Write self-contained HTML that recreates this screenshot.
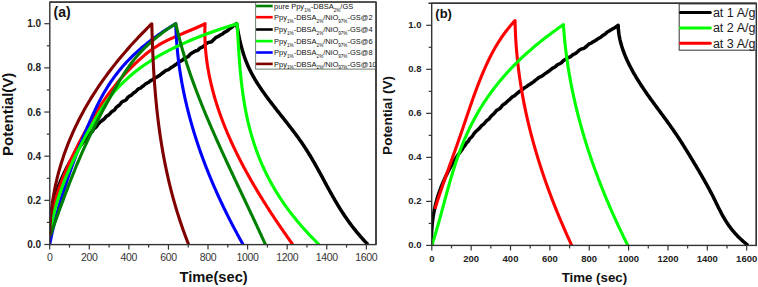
<!DOCTYPE html>
<html><head><meta charset="utf-8"><style>
html,body{margin:0;padding:0;background:#fff;}
body{width:758px;height:287px;overflow:hidden;}
svg{display:block;}
text{font-family:"Liberation Sans", sans-serif;}
</style></head><body>
<svg width="758" height="287" viewBox="0 0 758 287">
<rect x="0" y="0" width="758" height="287" fill="#fff"/>


<g clip-path="url(#ca)">
<path d="M49.70,233.46 L49.73,232.66 L49.76,231.86 L49.79,231.07 L49.83,230.27 L49.87,229.47 L49.92,228.67 L49.97,227.88 L50.02,227.08 L50.08,226.29 L50.14,225.49 L50.21,224.69 L50.28,223.90 L50.35,223.10 L50.43,222.31 L50.51,221.51 L50.59,220.72 L50.68,219.93 L50.78,219.13 L50.87,218.34 L50.98,217.55 L51.08,216.76 L51.19,215.97 L51.31,215.18 L51.43,214.39 L51.55,213.60 L51.68,212.81 L51.81,212.02 L51.94,211.24 L52.08,210.45 L52.22,209.67 L52.37,208.88 L52.52,208.10 L52.68,207.31 L52.84,206.53 L53.00,205.75 L53.17,204.97 L53.35,204.19 L53.52,203.41 L53.70,202.64 L53.89,201.86 L54.08,201.08 L54.27,200.31 L54.47,199.54 L54.67,198.76 L54.88,197.99 L55.09,197.22 L55.31,196.45 L55.52,195.69 L55.75,194.92 L55.97,194.15 L56.21,193.39 L56.44,192.63 L56.68,191.87 L56.93,191.10 L57.18,190.35 L57.43,189.59 L57.68,188.83 L57.94,188.08 L58.21,187.32 L58.48,186.57 L58.75,185.82 L59.02,185.07 L59.31,184.33 L59.59,183.58 L59.88,182.84 L60.17,182.09 L60.47,181.35 L60.77,180.61 L61.07,179.87 L61.38,179.14 L61.69,178.40 L62.01,177.67 L62.33,176.94 L62.65,176.21 L62.98,175.48 L63.31,174.75 L63.65,174.03 L63.99,173.31 L64.33,172.59 L64.67,171.87 L65.02,171.15 L65.38,170.43 L65.73,169.72 L66.10,169.01 L66.46,168.30 L66.83,167.59 L67.20,166.88 L67.57,166.18 L67.95,165.47 L68.33,164.77 L68.72,164.07 L69.11,163.37 L69.50,162.68 L69.90,161.99 L70.29,161.29 L70.70,160.60 L71.10,159.92 L71.51,159.23 L71.92,158.55 L72.34,157.86 L72.75,157.18 L73.17,156.51 L73.60,155.83 L74.03,155.16 L74.46,154.48 L74.89,153.81 L75.33,153.14 L75.77,152.48 L76.21,151.81 L76.66,151.15 L77.10,150.49 L77.56,149.83 L78.01,149.18 L78.47,148.52 L78.93,147.87 L79.39,147.22 L79.86,146.57 L80.32,145.92 L80.80,145.28 L81.27,144.64 L81.75,144.00 L82.22,143.36 L82.71,142.72 L83.19,142.09 L83.68,141.45 L84.17,140.82 L84.66,140.19 L85.15,139.57 L85.68,138.96 L86.18,138.34 L86.66,137.71 L87.15,137.07 L87.67,136.47 L88.22,135.89 L88.75,135.29 L89.23,134.65 L89.69,133.99 L90.17,133.35 L90.68,132.74 L91.28,132.20 L91.94,131.72 L92.53,131.17 L92.93,130.47 L93.24,129.67 L93.64,128.96 L94.23,128.41 L94.93,127.97 L95.61,127.51 L96.20,126.97 L96.70,126.34 L97.15,125.67 L97.57,124.97 L98.02,124.29 L98.54,123.69 L99.10,123.12 L99.66,122.54 L100.22,121.98 L100.83,121.45 L101.48,120.97 L102.13,120.49 L102.77,120.00 L103.41,119.51 L104.06,119.03 L104.65,118.50 L105.14,117.86 L105.60,117.19 L106.13,116.59 L106.75,116.09 L107.45,115.65 L108.15,115.24 L108.83,114.79 L109.43,114.27 L109.98,113.69 L110.48,113.07 L110.99,112.44 L111.54,111.86 L112.17,111.37 L112.89,110.98 L113.63,110.60 L114.29,110.14 L114.81,109.54 L115.24,108.82 L115.70,108.13 L116.23,107.52 L116.81,106.98 L117.42,106.47 L118.07,105.99 L118.72,105.53 L119.35,105.03 L119.91,104.46 L120.40,103.81 L120.87,103.13 L121.37,102.48 L121.95,101.93 L122.66,101.52 L123.43,101.21 L124.21,100.90 L124.95,100.54 L125.63,100.12 L126.24,99.60 L126.76,98.98 L127.23,98.29 L127.70,97.60 L128.25,97.00 L128.87,96.50 L129.56,96.08 L130.29,95.72 L131.02,95.35 L131.67,94.89 L132.25,94.34 L132.82,93.77 L133.41,93.23 L134.04,92.74 L134.68,92.26 L135.32,91.79 L135.94,91.27 L136.52,90.71 L137.07,90.12 L137.64,89.54 L138.26,89.05 L138.98,88.67 L139.76,88.39 L140.52,88.07 L141.17,87.61 L141.75,87.05 L142.34,86.50 L142.98,86.02 L143.62,85.54 L144.24,85.04 L144.85,84.52 L145.47,84.01 L146.15,83.59 L146.86,83.21 L147.57,82.82 L148.26,82.42 L148.95,82.01 L149.58,81.53 L150.19,81.00 L150.83,80.52 L151.54,80.15 L152.29,79.83 L152.99,79.44 L153.61,78.93 L154.20,78.38 L154.88,77.95 L155.65,77.66 L156.40,77.35 L157.08,76.94 L157.73,76.46 L158.40,76.04 L159.10,75.65 L159.78,75.23 L160.41,74.74 L161.02,74.22 L161.64,73.70 L162.28,73.22 L162.94,72.77 L163.60,72.32 L164.22,71.81 L164.80,71.25 L165.42,70.74 L166.14,70.38 L166.93,70.13 L167.73,69.89 L168.47,69.57 L169.15,69.14 L169.78,68.65 L170.40,68.14 L171.04,67.67 L171.70,67.21 L172.38,66.79 L173.06,66.38 L173.73,65.94 L174.38,65.47 L175.04,65.03 L175.74,64.64 L176.41,64.20 L177.02,63.67 L177.61,63.12 L178.23,62.60 L178.86,62.11 L179.52,61.66 L180.23,61.29 L180.97,60.96 L181.69,60.60 L182.36,60.18 L182.98,59.66 L183.55,59.07 L184.12,58.49 L184.78,58.04 L185.53,57.72 L186.32,57.47 L187.08,57.18 L187.78,56.80 L188.42,56.31 L188.98,55.71 L189.49,55.02 L190.03,54.39 L190.65,53.88 L191.32,53.45 L192.00,53.02 L192.67,52.60 L193.35,52.18 L194.01,51.73 L194.70,51.32 L195.46,51.03 L196.27,50.81 L197.07,50.57 L197.81,50.25 L198.45,49.77 L198.99,49.14 L199.53,48.50 L200.17,48.02 L200.92,47.72 L201.70,47.45 L202.42,47.09 L203.07,46.63 L203.68,46.10 L204.28,45.55 L204.85,44.97 L205.41,44.37 L205.99,43.79 L206.62,43.29 L207.30,42.89 L208.06,42.58 L208.87,42.37 L209.74,42.23 L210.60,42.09 L211.37,41.80 L212.00,41.31 L212.57,40.72 L213.14,40.14 L213.74,39.60 L214.34,39.05 L214.89,38.45 L215.44,37.83 L216.06,37.32 L216.81,37.00 L217.60,36.75 L218.32,36.39 L218.98,35.94 L219.63,35.48 L220.31,35.06 L221.02,34.69 L221.75,34.33 L222.45,33.95 L223.10,33.49 L223.73,32.99 L224.36,32.50 L225.02,32.05 L225.71,31.64 L226.44,31.30 L227.18,30.95 L227.82,30.49 L228.38,29.89 L228.94,29.29 L229.56,28.78 L230.23,28.35 L230.92,27.95 L231.59,27.51 L232.19,26.98 L232.73,26.35 L233.27,25.74 L233.89,25.24 L234.61,24.87 L235.34,24.51 L236.02,24.10 L236.68,23.64 L236.72,23.70 L236.97,25.29 L237.22,26.88 L237.49,28.47 L237.76,30.05 L238.04,31.64 L238.34,33.23 L238.64,34.82 L238.96,36.41 L239.29,38.00 L239.63,39.58 L239.99,41.17 L240.36,42.76 L240.75,44.35 L241.15,45.94 L241.58,47.53 L242.02,49.12 L242.48,50.70 L242.96,52.29 L243.46,53.88 L243.98,55.47 L244.52,57.06 L245.09,58.65 L245.68,60.24 L246.30,61.82 L246.94,63.41 L247.61,65.00 L248.30,66.59 L249.02,68.18 L249.78,69.77 L250.56,71.35 L251.37,72.94 L252.21,74.53 L253.08,76.12 L253.98,77.71 L254.91,79.30 L255.86,80.89 L256.85,82.47 L257.85,84.06 L258.88,85.65 L259.94,87.24 L261.01,88.83 L262.10,90.42 L263.22,92.01 L264.35,93.59 L265.49,95.18 L266.66,96.77 L267.83,98.36 L269.02,99.95 L270.22,101.54 L271.44,103.12 L272.66,104.71 L273.89,106.30 L275.13,107.89 L276.37,109.48 L277.62,111.07 L278.87,112.66 L280.13,114.24 L281.38,115.83 L282.64,117.42 L283.90,119.01 L285.15,120.60 L286.40,122.19 L287.65,123.77 L288.89,125.36 L290.12,126.95 L291.35,128.54 L292.56,130.13 L293.77,131.72 L294.96,133.31 L296.15,134.89 L297.32,136.48 L298.47,138.07 L299.61,139.66 L300.73,141.25 L301.83,142.84 L302.91,144.43 L303.98,146.01 L305.02,147.60 L306.05,149.19 L307.06,150.78 L308.06,152.37 L309.04,153.96 L310.01,155.54 L310.96,157.13 L311.90,158.72 L312.83,160.31 L313.75,161.90 L314.66,163.49 L315.56,165.08 L316.46,166.66 L317.34,168.25 L318.22,169.84 L319.09,171.43 L319.96,173.02 L320.83,174.61 L321.69,176.19 L322.55,177.78 L323.41,179.37 L324.27,180.96 L325.12,182.55 L325.98,184.14 L326.84,185.73 L327.71,187.31 L328.58,188.90 L329.45,190.49 L330.33,192.08 L331.21,193.67 L332.11,195.26 L333.01,196.85 L333.91,198.43 L334.83,200.02 L335.76,201.61 L336.70,203.20 L337.65,204.79 L338.62,206.38 L339.60,207.96 L340.59,209.55 L341.60,211.14 L342.63,212.73 L343.67,214.32 L344.74,215.91 L345.82,217.50 L346.92,219.08 L348.04,220.67 L349.18,222.26 L350.35,223.85 L351.54,225.44 L352.75,227.03 L353.99,228.62 L355.25,230.20 L356.54,231.79 L357.86,233.38 L359.20,234.97 L360.58,236.56 L361.99,238.15 L363.42,239.73 L364.89,241.32 L366.39,242.91 L367.92,244.50" fill="none" stroke="#000000" stroke-width="3.5" stroke-linejoin="round" stroke-linecap="butt"/>
<path d="M49.70,234.56 L49.77,233.05 L49.87,231.53 L49.97,230.01 L50.10,228.50 L50.24,226.98 L50.41,225.46 L50.58,223.94 L50.78,222.43 L50.99,220.91 L51.21,219.39 L51.46,217.88 L51.72,216.36 L51.99,214.84 L52.28,213.33 L52.58,211.81 L52.90,210.29 L53.24,208.77 L53.59,207.26 L53.95,205.74 L54.33,204.22 L54.72,202.71 L55.13,201.19 L55.54,199.67 L55.98,198.16 L56.42,196.64 L56.88,195.12 L57.35,193.60 L57.84,192.09 L58.33,190.57 L58.84,189.05 L59.36,187.54 L59.89,186.02 L60.44,184.50 L60.99,182.99 L61.56,181.47 L62.14,179.95 L62.72,178.43 L63.32,176.92 L63.93,175.40 L64.55,173.88 L65.18,172.37 L65.82,170.85 L66.47,169.33 L67.13,167.82 L67.79,166.30 L68.47,164.78 L69.15,163.26 L69.85,161.75 L70.55,160.23 L71.26,158.71 L71.98,157.20 L72.70,155.68 L73.44,154.16 L74.18,152.65 L74.93,151.13 L75.68,149.61 L76.44,148.09 L77.21,146.58 L77.98,145.06 L78.77,143.54 L79.55,142.03 L80.34,140.51 L81.14,138.99 L81.95,137.48 L82.75,135.96 L83.57,134.44 L84.39,132.92 L85.21,131.41 L86.04,129.89 L86.87,128.37 L87.71,126.86 L88.56,125.34 L89.42,123.82 L90.28,122.31 L91.16,120.79 L92.04,119.27 L92.93,117.75 L93.83,116.24 L94.75,114.72 L95.67,113.20 L96.61,111.69 L97.55,110.17 L98.51,108.65 L99.49,107.14 L100.47,105.62 L101.48,104.10 L102.49,102.58 L103.52,101.07 L104.57,99.55 L105.63,98.03 L106.71,96.52 L107.81,95.00 L108.93,93.48 L110.06,91.97 L111.21,90.45 L112.38,88.93 L113.57,87.41 L114.78,85.90 L116.01,84.38 L117.27,82.86 L118.54,81.35 L119.84,79.83 L121.16,78.31 L122.50,76.80 L123.87,75.28 L125.26,73.76 L126.67,72.24 L128.12,70.73 L129.58,69.21 L131.07,67.69 L132.59,66.18 L134.14,64.66 L135.72,63.14 L137.32,61.63 L138.95,60.11 L140.61,58.59 L142.32,57.07 L144.07,55.56 L145.89,54.04 L147.79,52.52 L149.78,51.01 L151.88,49.49 L154.08,47.97 L156.42,46.46 L158.90,44.94 L161.53,43.42 L164.33,41.90 L167.30,40.39 L170.46,38.87 L173.80,37.35 L177.27,35.84 L180.83,34.32 L184.44,32.80 L188.07,31.29 L191.67,29.77 L195.21,28.25 L198.65,26.73 L201.94,25.22 L205.05,23.70 L205.05,23.70 L204.99,25.29 L204.94,26.88 L204.90,28.47 L204.88,30.05 L204.86,31.64 L204.86,33.23 L204.88,34.82 L204.90,36.41 L204.94,38.00 L204.99,39.58 L205.05,41.17 L205.12,42.76 L205.21,44.35 L205.31,45.94 L205.42,47.53 L205.54,49.12 L205.67,50.70 L205.82,52.29 L205.98,53.88 L206.15,55.47 L206.33,57.06 L206.52,58.65 L206.72,60.24 L206.94,61.82 L207.17,63.41 L207.40,65.00 L207.65,66.59 L207.91,68.18 L208.19,69.77 L208.47,71.35 L208.76,72.94 L209.07,74.53 L209.38,76.12 L209.71,77.71 L210.05,79.30 L210.40,80.89 L210.76,82.47 L211.13,84.06 L211.51,85.65 L211.90,87.24 L212.30,88.83 L212.71,90.42 L213.13,92.01 L213.56,93.59 L214.01,95.18 L214.46,96.77 L214.92,98.36 L215.39,99.95 L215.88,101.54 L216.37,103.12 L216.87,104.71 L217.38,106.30 L217.91,107.89 L218.44,109.48 L218.98,111.07 L219.53,112.66 L220.09,114.24 L220.66,115.83 L221.24,117.42 L221.83,119.01 L222.43,120.60 L223.03,122.19 L223.65,123.77 L224.28,125.36 L224.91,126.95 L225.55,128.54 L226.21,130.13 L226.87,131.72 L227.54,133.31 L228.22,134.89 L228.90,136.48 L229.60,138.07 L230.30,139.66 L231.02,141.25 L231.74,142.84 L232.47,144.43 L233.21,146.01 L233.95,147.60 L234.71,149.19 L235.47,150.78 L236.24,152.37 L237.02,153.96 L237.81,155.54 L238.60,157.13 L239.40,158.72 L240.21,160.31 L241.03,161.90 L241.86,163.49 L242.69,165.08 L243.53,166.66 L244.38,168.25 L245.23,169.84 L246.10,171.43 L246.97,173.02 L247.84,174.61 L248.73,176.19 L249.62,177.78 L250.52,179.37 L251.43,180.96 L252.34,182.55 L253.26,184.14 L254.19,185.73 L255.12,187.31 L256.06,188.90 L257.01,190.49 L257.96,192.08 L258.92,193.67 L259.88,195.26 L260.86,196.85 L261.84,198.43 L262.82,200.02 L263.81,201.61 L264.81,203.20 L265.81,204.79 L266.82,206.38 L267.84,207.96 L268.86,209.55 L269.89,211.14 L270.92,212.73 L271.96,214.32 L273.01,215.91 L274.06,217.50 L275.11,219.08 L276.18,220.67 L277.24,222.26 L278.31,223.85 L279.39,225.44 L280.48,227.03 L281.56,228.62 L282.66,230.20 L283.76,231.79 L284.86,233.38 L285.97,234.97 L287.08,236.56 L288.20,238.15 L289.32,239.73 L290.45,241.32 L291.58,242.91 L292.72,244.50" fill="none" stroke="#ff0000" stroke-width="3.1" stroke-linejoin="round" stroke-linecap="butt"/>
<path d="M49.70,244.50 L50.00,242.91 L50.31,241.32 L50.63,239.73 L50.95,238.15 L51.29,236.56 L51.63,234.97 L51.98,233.38 L52.33,231.79 L52.69,230.20 L53.07,228.62 L53.44,227.03 L53.83,225.44 L54.22,223.85 L54.62,222.26 L55.02,220.67 L55.43,219.08 L55.85,217.50 L56.27,215.91 L56.70,214.32 L57.14,212.73 L57.58,211.14 L58.03,209.55 L58.48,207.96 L58.94,206.38 L59.40,204.79 L59.87,203.20 L60.34,201.61 L60.82,200.02 L61.31,198.43 L61.80,196.85 L62.29,195.26 L62.79,193.67 L63.29,192.08 L63.80,190.49 L64.31,188.90 L64.82,187.31 L65.34,185.73 L65.87,184.14 L66.39,182.55 L66.93,180.96 L67.46,179.37 L68.00,177.78 L68.54,176.19 L69.09,174.61 L69.64,173.02 L70.20,171.43 L70.76,169.84 L71.32,168.25 L71.89,166.66 L72.46,165.08 L73.04,163.49 L73.62,161.90 L74.21,160.31 L74.80,158.72 L75.39,157.13 L75.99,155.54 L76.59,153.96 L77.20,152.37 L77.81,150.78 L78.43,149.19 L79.05,147.60 L79.67,146.01 L80.30,144.43 L80.93,142.84 L81.57,141.25 L82.21,139.66 L82.86,138.07 L83.51,136.48 L84.17,134.89 L84.83,133.31 L85.49,131.72 L86.16,130.13 L86.84,128.54 L87.51,126.95 L88.20,125.36 L88.89,123.77 L89.58,122.19 L90.28,120.60 L90.98,119.01 L91.68,117.42 L92.40,115.83 L93.12,114.24 L93.85,112.66 L94.58,111.07 L95.33,109.48 L96.09,107.89 L96.86,106.30 L97.64,104.71 L98.44,103.12 L99.25,101.54 L100.07,99.95 L100.92,98.36 L101.77,96.77 L102.65,95.18 L103.55,93.59 L104.46,92.01 L105.40,90.42 L106.36,88.83 L107.34,87.24 L108.35,85.65 L109.38,84.06 L110.43,82.47 L111.51,80.89 L112.62,79.30 L113.76,77.71 L114.92,76.12 L116.12,74.53 L117.35,72.94 L118.61,71.35 L119.90,69.77 L121.22,68.18 L122.58,66.59 L123.98,65.00 L125.41,63.41 L126.88,61.82 L128.39,60.24 L129.94,58.65 L131.52,57.06 L133.15,55.47 L134.82,53.88 L136.54,52.29 L138.29,50.70 L140.09,49.12 L141.94,47.53 L143.84,45.94 L145.78,44.35 L147.77,42.76 L149.81,41.17 L151.90,39.58 L154.04,38.00 L156.23,36.41 L158.47,34.82 L160.77,33.23 L163.13,31.64 L165.54,30.05 L168.01,28.47 L170.53,26.88 L173.11,25.29 L175.76,23.70 L175.76,23.70 L175.80,25.29 L175.85,26.88 L175.91,28.47 L175.97,30.05 L176.04,31.64 L176.12,33.23 L176.21,34.82 L176.30,36.41 L176.39,38.00 L176.50,39.58 L176.61,41.17 L176.73,42.76 L176.85,44.35 L176.98,45.94 L177.12,47.53 L177.27,49.12 L177.42,50.70 L177.58,52.29 L177.74,53.88 L177.91,55.47 L178.09,57.06 L178.28,58.65 L178.47,60.24 L178.67,61.82 L178.87,63.41 L179.08,65.00 L179.30,66.59 L179.52,68.18 L179.76,69.77 L179.99,71.35 L180.24,72.94 L180.49,74.53 L180.75,76.12 L181.01,77.71 L181.28,79.30 L181.56,80.89 L181.84,82.47 L182.13,84.06 L182.43,85.65 L182.73,87.24 L183.04,88.83 L183.36,90.42 L183.68,92.01 L184.01,93.59 L184.34,95.18 L184.69,96.77 L185.03,98.36 L185.39,99.95 L185.75,101.54 L186.12,103.12 L186.49,104.71 L186.87,106.30 L187.26,107.89 L187.65,109.48 L188.05,111.07 L188.45,112.66 L188.87,114.24 L189.28,115.83 L189.71,117.42 L190.14,119.01 L190.58,120.60 L191.02,122.19 L191.47,123.77 L191.92,125.36 L192.38,126.95 L192.85,128.54 L193.33,130.13 L193.81,131.72 L194.29,133.31 L194.78,134.89 L195.28,136.48 L195.79,138.07 L196.30,139.66 L196.82,141.25 L197.34,142.84 L197.87,144.43 L198.40,146.01 L198.95,147.60 L199.49,149.19 L200.05,150.78 L200.61,152.37 L201.17,153.96 L201.74,155.54 L202.32,157.13 L202.90,158.72 L203.49,160.31 L204.09,161.90 L204.69,163.49 L205.30,165.08 L205.91,166.66 L206.53,168.25 L207.16,169.84 L207.79,171.43 L208.43,173.02 L209.07,174.61 L209.72,176.19 L210.37,177.78 L211.03,179.37 L211.70,180.96 L212.37,182.55 L213.05,184.14 L213.74,185.73 L214.43,187.31 L215.12,188.90 L215.82,190.49 L216.53,192.08 L217.24,193.67 L217.96,195.26 L218.69,196.85 L219.42,198.43 L220.15,200.02 L220.89,201.61 L221.64,203.20 L222.40,204.79 L223.15,206.38 L223.92,207.96 L224.69,209.55 L225.47,211.14 L226.25,212.73 L227.03,214.32 L227.83,215.91 L228.63,217.50 L229.43,219.08 L230.24,220.67 L231.05,222.26 L231.87,223.85 L232.70,225.44 L233.53,227.03 L234.37,228.62 L235.21,230.20 L236.06,231.79 L236.92,233.38 L237.78,234.97 L238.64,236.56 L239.51,238.15 L240.39,239.73 L241.27,241.32 L242.16,242.91 L243.05,244.50" fill="none" stroke="#0000ff" stroke-width="3.1" stroke-linejoin="round" stroke-linecap="butt"/>
<path d="M49.70,233.46 L49.96,231.95 L50.23,230.44 L50.51,228.93 L50.80,227.42 L51.09,225.91 L51.40,224.41 L51.72,222.90 L52.05,221.39 L52.38,219.88 L52.73,218.37 L53.09,216.86 L53.45,215.35 L53.83,213.84 L54.22,212.33 L54.61,210.82 L55.02,209.31 L55.44,207.81 L55.86,206.30 L56.30,204.79 L56.74,203.28 L57.20,201.77 L57.66,200.26 L58.14,198.75 L58.62,197.24 L59.12,195.73 L59.62,194.22 L60.13,192.72 L60.66,191.21 L61.19,189.70 L61.73,188.19 L62.28,186.68 L62.84,185.17 L63.41,183.66 L63.99,182.15 L64.58,180.64 L65.18,179.13 L65.78,177.62 L66.40,176.12 L67.02,174.61 L67.65,173.10 L68.29,171.59 L68.94,170.08 L69.60,168.57 L70.26,167.06 L70.94,165.55 L71.62,164.04 L72.31,162.53 L73.01,161.02 L73.71,159.52 L74.43,158.01 L75.15,156.50 L75.88,154.99 L76.62,153.48 L77.37,151.97 L78.12,150.46 L78.88,148.95 L79.65,147.44 L80.42,145.93 L81.21,144.43 L82.00,142.92 L82.79,141.41 L83.60,139.90 L84.41,138.39 L85.23,136.88 L86.06,135.37 L86.89,133.86 L87.73,132.35 L88.57,130.84 L89.43,129.33 L90.29,127.83 L91.15,126.32 L92.02,124.81 L92.90,123.30 L93.79,121.79 L94.68,120.28 L95.58,118.77 L96.48,117.26 L97.40,115.75 L98.32,114.24 L99.26,112.73 L100.21,111.23 L101.17,109.72 L102.16,108.21 L103.16,106.70 L104.18,105.19 L105.22,103.68 L106.29,102.17 L107.38,100.66 L108.49,99.15 L109.64,97.64 L110.81,96.14 L112.02,94.63 L113.26,93.12 L114.53,91.61 L115.84,90.10 L117.18,88.59 L118.57,87.08 L119.99,85.57 L121.46,84.06 L122.97,82.55 L124.53,81.04 L126.13,79.54 L127.78,78.03 L129.48,76.52 L131.24,75.01 L133.04,73.50 L134.90,71.99 L136.82,70.48 L138.80,68.97 L140.83,67.46 L142.93,65.95 L145.10,64.44 L147.33,62.94 L149.64,61.43 L152.01,59.92 L154.46,58.41 L156.99,56.90 L159.60,55.39 L162.29,53.88 L165.06,52.37 L167.92,50.86 L170.87,49.35 L173.91,47.85 L177.05,46.34 L180.28,44.83 L183.62,43.32 L187.05,41.81 L190.59,40.30 L194.23,38.79 L197.98,37.28 L201.85,35.77 L205.83,34.26 L209.93,32.75 L214.14,31.25 L218.48,29.74 L222.94,28.23 L227.53,26.72 L232.25,25.21 L237.11,23.70 L237.11,23.70 L237.21,25.29 L237.30,26.88 L237.39,28.47 L237.49,30.05 L237.58,31.64 L237.67,33.23 L237.76,34.82 L237.85,36.41 L237.95,38.00 L238.04,39.58 L238.14,41.17 L238.23,42.76 L238.33,44.35 L238.43,45.94 L238.52,47.53 L238.63,49.12 L238.73,50.70 L238.83,52.29 L238.94,53.88 L239.05,55.47 L239.16,57.06 L239.28,58.65 L239.40,60.24 L239.52,61.82 L239.64,63.41 L239.77,65.00 L239.90,66.59 L240.03,68.18 L240.17,69.77 L240.32,71.35 L240.46,72.94 L240.62,74.53 L240.77,76.12 L240.93,77.71 L241.10,79.30 L241.27,80.89 L241.45,82.47 L241.63,84.06 L241.82,85.65 L242.01,87.24 L242.21,88.83 L242.42,90.42 L242.63,92.01 L242.85,93.59 L243.07,95.18 L243.31,96.77 L243.55,98.36 L243.79,99.95 L244.05,101.54 L244.31,103.12 L244.58,104.71 L244.85,106.30 L245.14,107.89 L245.43,109.48 L245.74,111.07 L246.05,112.66 L246.37,114.24 L246.70,115.83 L247.03,117.42 L247.38,119.01 L247.74,120.60 L248.10,122.19 L248.48,123.77 L248.87,125.36 L249.26,126.95 L249.67,128.54 L250.09,130.13 L250.51,131.72 L250.95,133.31 L251.40,134.89 L251.86,136.48 L252.34,138.07 L252.82,139.66 L253.32,141.25 L253.82,142.84 L254.34,144.43 L254.88,146.01 L255.42,147.60 L255.98,149.19 L256.55,150.78 L257.13,152.37 L257.73,153.96 L258.34,155.54 L258.96,157.13 L259.59,158.72 L260.24,160.31 L260.91,161.90 L261.59,163.49 L262.28,165.08 L262.99,166.66 L263.71,168.25 L264.45,169.84 L265.20,171.43 L265.97,173.02 L266.75,174.61 L267.55,176.19 L268.36,177.78 L269.19,179.37 L270.04,180.96 L270.90,182.55 L271.78,184.14 L272.67,185.73 L273.58,187.31 L274.51,188.90 L275.46,190.49 L276.42,192.08 L277.40,193.67 L278.40,195.26 L279.42,196.85 L280.45,198.43 L281.50,200.02 L282.57,201.61 L283.66,203.20 L284.77,204.79 L285.90,206.38 L287.04,207.96 L288.21,209.55 L289.39,211.14 L290.60,212.73 L291.82,214.32 L293.06,215.91 L294.33,217.50 L295.61,219.08 L296.91,220.67 L298.24,222.26 L299.58,223.85 L300.95,225.44 L302.34,227.03 L303.75,228.62 L305.18,230.20 L306.63,231.79 L308.10,233.38 L309.60,234.97 L311.12,236.56 L312.66,238.15 L314.22,239.73 L315.80,241.32 L317.41,242.91 L319.04,244.50" fill="none" stroke="#00ff00" stroke-width="3.1" stroke-linejoin="round" stroke-linecap="butt"/>
<path d="M49.90,236.33 L50.46,234.80 L51.02,233.27 L51.57,231.74 L52.13,230.21 L52.68,228.68 L53.24,227.15 L53.79,225.62 L54.35,224.09 L54.90,222.56 L55.45,221.03 L56.01,219.50 L56.56,217.97 L57.12,216.44 L57.67,214.91 L58.23,213.38 L58.78,211.85 L59.34,210.33 L59.90,208.80 L60.46,207.27 L61.02,205.74 L61.58,204.21 L62.14,202.68 L62.70,201.15 L63.27,199.62 L63.84,198.09 L64.41,196.56 L64.98,195.03 L65.55,193.50 L66.13,191.97 L66.70,190.44 L67.28,188.91 L67.87,187.38 L68.45,185.85 L69.04,184.32 L69.63,182.79 L70.23,181.26 L70.83,179.73 L71.43,178.20 L72.03,176.67 L72.64,175.14 L73.25,173.61 L73.87,172.08 L74.49,170.55 L75.11,169.02 L75.74,167.49 L76.37,165.96 L77.01,164.43 L77.65,162.90 L78.29,161.37 L78.94,159.84 L79.60,158.31 L80.26,156.79 L80.92,155.26 L81.59,153.73 L82.27,152.20 L82.95,150.67 L83.64,149.14 L84.33,147.61 L85.03,146.08 L85.73,144.55 L86.44,143.02 L87.16,141.49 L87.88,139.96 L88.61,138.43 L89.34,136.90 L90.08,135.37 L90.83,133.84 L91.58,132.31 L92.33,130.78 L93.09,129.25 L93.86,127.72 L94.63,126.19 L95.41,124.66 L96.19,123.13 L96.97,121.60 L97.77,120.07 L98.56,118.54 L99.36,117.01 L100.17,115.48 L100.98,113.95 L101.79,112.42 L102.61,110.89 L103.43,109.36 L104.26,107.83 L105.09,106.30 L105.93,104.77 L106.77,103.25 L107.61,101.72 L108.46,100.19 L109.31,98.66 L110.16,97.13 L111.02,95.60 L111.88,94.07 L112.75,92.54 L113.62,91.01 L114.49,89.48 L115.36,87.95 L116.24,86.42 L117.13,84.89 L118.03,83.36 L118.93,81.83 L119.85,80.30 L120.78,78.77 L121.73,77.24 L122.69,75.71 L123.66,74.18 L124.66,72.65 L125.68,71.12 L126.72,69.59 L127.78,68.06 L128.87,66.53 L129.98,65.00 L131.13,63.47 L132.30,61.94 L133.50,60.41 L134.74,58.88 L136.01,57.35 L137.32,55.82 L138.66,54.29 L140.05,52.76 L141.47,51.23 L142.94,49.71 L144.45,48.18 L146.00,46.65 L147.60,45.12 L149.25,43.59 L150.95,42.06 L152.70,40.53 L154.50,39.00 L156.36,37.47 L158.27,35.94 L160.24,34.41 L162.27,32.88 L164.36,31.35 L166.51,29.82 L168.72,28.29 L171.00,26.76 L173.35,25.23 L175.76,23.70 L175.76,23.70 L176.12,25.29 L176.48,26.88 L176.85,28.47 L177.23,30.05 L177.61,31.64 L178.00,33.23 L178.40,34.82 L178.80,36.41 L179.22,38.00 L179.63,39.58 L180.06,41.17 L180.49,42.76 L180.93,44.35 L181.37,45.94 L181.83,47.53 L182.28,49.12 L182.75,50.70 L183.22,52.29 L183.69,53.88 L184.18,55.47 L184.67,57.06 L185.16,58.65 L185.66,60.24 L186.17,61.82 L186.68,63.41 L187.19,65.00 L187.72,66.59 L188.25,68.18 L188.78,69.77 L189.32,71.35 L189.86,72.94 L190.41,74.53 L190.97,76.12 L191.53,77.71 L192.10,79.30 L192.67,80.89 L193.24,82.47 L193.82,84.06 L194.41,85.65 L195.00,87.24 L195.59,88.83 L196.19,90.42 L196.79,92.01 L197.40,93.59 L198.01,95.18 L198.63,96.77 L199.25,98.36 L199.88,99.95 L200.51,101.54 L201.14,103.12 L201.78,104.71 L202.42,106.30 L203.06,107.89 L203.71,109.48 L204.36,111.07 L205.02,112.66 L205.68,114.24 L206.34,115.83 L207.01,117.42 L207.68,119.01 L208.35,120.60 L209.03,122.19 L209.71,123.77 L210.39,125.36 L211.08,126.95 L211.76,128.54 L212.46,130.13 L213.15,131.72 L213.85,133.31 L214.55,134.89 L215.25,136.48 L215.95,138.07 L216.66,139.66 L217.37,141.25 L218.08,142.84 L218.80,144.43 L219.51,146.01 L220.23,147.60 L220.95,149.19 L221.68,150.78 L222.40,152.37 L223.13,153.96 L223.86,155.54 L224.59,157.13 L225.32,158.72 L226.05,160.31 L226.79,161.90 L227.52,163.49 L228.26,165.08 L229.00,166.66 L229.74,168.25 L230.48,169.84 L231.22,171.43 L231.97,173.02 L232.71,174.61 L233.46,176.19 L234.20,177.78 L234.95,179.37 L235.70,180.96 L236.45,182.55 L237.20,184.14 L237.95,185.73 L238.70,187.31 L239.45,188.90 L240.20,190.49 L240.95,192.08 L241.70,193.67 L242.45,195.26 L243.20,196.85 L243.95,198.43 L244.70,200.02 L245.45,201.61 L246.21,203.20 L246.96,204.79 L247.71,206.38 L248.45,207.96 L249.20,209.55 L249.95,211.14 L250.70,212.73 L251.45,214.32 L252.19,215.91 L252.94,217.50 L253.68,219.08 L254.43,220.67 L255.17,222.26 L255.91,223.85 L256.65,225.44 L257.39,227.03 L258.13,228.62 L258.86,230.20 L259.60,231.79 L260.33,233.38 L261.06,234.97 L261.79,236.56 L262.52,238.15 L263.24,239.73 L263.97,241.32 L264.69,242.91 L265.41,244.50" fill="none" stroke="#008000" stroke-width="3.1" stroke-linejoin="round" stroke-linecap="butt"/>
<path d="M49.70,235.67 L49.73,234.14 L49.78,232.62 L49.83,231.09 L49.89,229.57 L49.96,228.04 L50.04,226.52 L50.12,224.99 L50.22,223.47 L50.32,221.94 L50.43,220.42 L50.55,218.89 L50.68,217.37 L50.82,215.84 L50.97,214.32 L51.13,212.79 L51.29,211.27 L51.46,209.74 L51.65,208.22 L51.84,206.69 L52.04,205.17 L52.25,203.64 L52.47,202.12 L52.70,200.59 L52.93,199.07 L53.18,197.54 L53.44,196.02 L53.70,194.49 L53.98,192.97 L54.26,191.44 L54.56,189.92 L54.86,188.39 L55.17,186.87 L55.49,185.34 L55.82,183.82 L56.17,182.29 L56.52,180.77 L56.88,179.24 L57.25,177.72 L57.63,176.19 L58.02,174.67 L58.42,173.15 L58.83,171.62 L59.25,170.10 L59.68,168.57 L60.12,167.05 L60.57,165.52 L61.03,164.00 L61.50,162.47 L61.98,160.95 L62.47,159.42 L62.97,157.90 L63.48,156.37 L64.00,154.85 L64.53,153.32 L65.08,151.80 L65.63,150.27 L66.19,148.75 L66.77,147.22 L67.35,145.70 L67.95,144.17 L68.55,142.65 L69.17,141.12 L69.79,139.60 L70.43,138.07 L71.08,136.55 L71.74,135.02 L72.41,133.50 L73.09,131.97 L73.78,130.45 L74.49,128.92 L75.20,127.40 L75.93,125.87 L76.66,124.35 L77.41,122.82 L78.17,121.30 L78.94,119.77 L79.72,118.25 L80.51,116.72 L81.32,115.20 L82.13,113.67 L82.96,112.15 L83.80,110.62 L84.65,109.10 L85.51,107.57 L86.38,106.05 L87.27,104.52 L88.16,103.00 L89.07,101.47 L89.99,99.95 L90.92,98.42 L91.87,96.90 L92.82,95.37 L93.79,93.85 L94.77,92.32 L95.76,90.80 L96.76,89.27 L97.78,87.75 L98.80,86.22 L99.84,84.70 L100.89,83.17 L101.96,81.65 L103.03,80.12 L104.12,78.60 L105.22,77.07 L106.34,75.55 L107.46,74.02 L108.60,72.50 L109.75,70.97 L110.91,69.45 L112.09,67.92 L113.27,66.40 L114.48,64.87 L115.69,63.35 L116.91,61.82 L118.15,60.30 L119.41,58.77 L120.67,57.25 L121.95,55.72 L123.24,54.20 L124.54,52.67 L125.86,51.15 L127.19,49.62 L128.53,48.10 L129.88,46.57 L131.25,45.05 L132.63,43.52 L134.03,42.00 L135.44,40.47 L136.86,38.95 L138.29,37.42 L139.74,35.90 L141.20,34.37 L142.68,32.85 L144.17,31.32 L145.67,29.80 L147.18,28.27 L148.71,26.75 L150.26,25.22 L151.81,23.70 L151.82,23.70 L151.86,25.29 L151.90,26.88 L151.94,28.47 L151.98,30.05 L152.03,31.64 L152.08,33.23 L152.12,34.82 L152.17,36.41 L152.23,38.00 L152.28,39.58 L152.33,41.17 L152.39,42.76 L152.45,44.35 L152.51,45.94 L152.57,47.53 L152.63,49.12 L152.70,50.70 L152.77,52.29 L152.84,53.88 L152.91,55.47 L152.98,57.06 L153.06,58.65 L153.14,60.24 L153.22,61.82 L153.30,63.41 L153.38,65.00 L153.47,66.59 L153.56,68.18 L153.65,69.77 L153.75,71.35 L153.85,72.94 L153.94,74.53 L154.05,76.12 L154.15,77.71 L154.26,79.30 L154.37,80.89 L154.48,82.47 L154.60,84.06 L154.72,85.65 L154.84,87.24 L154.97,88.83 L155.09,90.42 L155.23,92.01 L155.36,93.59 L155.50,95.18 L155.64,96.77 L155.78,98.36 L155.93,99.95 L156.08,101.54 L156.23,103.12 L156.39,104.71 L156.55,106.30 L156.71,107.89 L156.88,109.48 L157.05,111.07 L157.23,112.66 L157.41,114.24 L157.59,115.83 L157.77,117.42 L157.96,119.01 L158.16,120.60 L158.35,122.19 L158.56,123.77 L158.76,125.36 L158.97,126.95 L159.18,128.54 L159.40,130.13 L159.62,131.72 L159.85,133.31 L160.08,134.89 L160.31,136.48 L160.55,138.07 L160.79,139.66 L161.04,141.25 L161.29,142.84 L161.55,144.43 L161.81,146.01 L162.07,147.60 L162.34,149.19 L162.62,150.78 L162.90,152.37 L163.18,153.96 L163.47,155.54 L163.77,157.13 L164.06,158.72 L164.37,160.31 L164.68,161.90 L164.99,163.49 L165.31,165.08 L165.63,166.66 L165.96,168.25 L166.29,169.84 L166.63,171.43 L166.98,173.02 L167.33,174.61 L167.68,176.19 L168.04,177.78 L168.41,179.37 L168.78,180.96 L169.16,182.55 L169.54,184.14 L169.93,185.73 L170.32,187.31 L170.72,188.90 L171.13,190.49 L171.54,192.08 L171.95,193.67 L172.38,195.26 L172.80,196.85 L173.24,198.43 L173.68,200.02 L174.13,201.61 L174.58,203.20 L175.04,204.79 L175.50,206.38 L175.97,207.96 L176.45,209.55 L176.93,211.14 L177.42,212.73 L177.92,214.32 L178.42,215.91 L178.93,217.50 L179.45,219.08 L179.97,220.67 L180.50,222.26 L181.04,223.85 L181.58,225.44 L182.13,227.03 L182.68,228.62 L183.25,230.20 L183.82,231.79 L184.39,233.38 L184.98,234.97 L185.57,236.56 L186.16,238.15 L186.77,239.73 L187.38,241.32 L188.00,242.91 L188.63,244.50" fill="none" stroke="#800000" stroke-width="3.1" stroke-linejoin="round" stroke-linecap="butt"/>
</g>
<line x1="44.30" y1="244.50" x2="49.80" y2="244.50" stroke="#333333" stroke-width="1.2"/>
<text x="41.20" y="248.10" font-size="10" font-weight="bold" text-anchor="end" fill="#222">0.0</text>
<line x1="46.80" y1="222.42" x2="49.80" y2="222.42" stroke="#333333" stroke-width="1.2"/>
<line x1="44.30" y1="200.34" x2="49.80" y2="200.34" stroke="#333333" stroke-width="1.2"/>
<text x="41.20" y="203.94" font-size="10" font-weight="bold" text-anchor="end" fill="#222">0.2</text>
<line x1="46.80" y1="178.26" x2="49.80" y2="178.26" stroke="#333333" stroke-width="1.2"/>
<line x1="44.30" y1="156.18" x2="49.80" y2="156.18" stroke="#333333" stroke-width="1.2"/>
<text x="41.20" y="159.78" font-size="10" font-weight="bold" text-anchor="end" fill="#222">0.4</text>
<line x1="46.80" y1="134.10" x2="49.80" y2="134.10" stroke="#333333" stroke-width="1.2"/>
<line x1="44.30" y1="112.02" x2="49.80" y2="112.02" stroke="#333333" stroke-width="1.2"/>
<text x="41.20" y="115.62" font-size="10" font-weight="bold" text-anchor="end" fill="#222">0.6</text>
<line x1="46.80" y1="89.94" x2="49.80" y2="89.94" stroke="#333333" stroke-width="1.2"/>
<line x1="44.30" y1="67.86" x2="49.80" y2="67.86" stroke="#333333" stroke-width="1.2"/>
<text x="41.20" y="71.46" font-size="10" font-weight="bold" text-anchor="end" fill="#222">0.8</text>
<line x1="46.80" y1="45.78" x2="49.80" y2="45.78" stroke="#333333" stroke-width="1.2"/>
<line x1="44.30" y1="23.70" x2="49.80" y2="23.70" stroke="#333333" stroke-width="1.2"/>
<text x="41.20" y="27.30" font-size="10" font-weight="bold" text-anchor="end" fill="#222">1.0</text>
<line x1="49.70" y1="244.60" x2="49.70" y2="249.60" stroke="#333333" stroke-width="1.2"/>
<text x="49.70" y="261.00" font-size="10.5" font-weight="normal" text-anchor="middle" fill="#333" letter-spacing="-0.35">0</text>
<line x1="69.49" y1="244.60" x2="69.49" y2="247.60" stroke="#333333" stroke-width="1.2"/>
<line x1="89.28" y1="244.60" x2="89.28" y2="249.60" stroke="#333333" stroke-width="1.2"/>
<text x="89.28" y="261.00" font-size="10.5" font-weight="normal" text-anchor="middle" fill="#333" letter-spacing="-0.35">200</text>
<line x1="109.07" y1="244.60" x2="109.07" y2="247.60" stroke="#333333" stroke-width="1.2"/>
<line x1="128.86" y1="244.60" x2="128.86" y2="249.60" stroke="#333333" stroke-width="1.2"/>
<text x="128.86" y="261.00" font-size="10.5" font-weight="normal" text-anchor="middle" fill="#333" letter-spacing="-0.35">400</text>
<line x1="148.65" y1="244.60" x2="148.65" y2="247.60" stroke="#333333" stroke-width="1.2"/>
<line x1="168.44" y1="244.60" x2="168.44" y2="249.60" stroke="#333333" stroke-width="1.2"/>
<text x="168.44" y="261.00" font-size="10.5" font-weight="normal" text-anchor="middle" fill="#333" letter-spacing="-0.35">600</text>
<line x1="188.23" y1="244.60" x2="188.23" y2="247.60" stroke="#333333" stroke-width="1.2"/>
<line x1="208.02" y1="244.60" x2="208.02" y2="249.60" stroke="#333333" stroke-width="1.2"/>
<text x="208.02" y="261.00" font-size="10.5" font-weight="normal" text-anchor="middle" fill="#333" letter-spacing="-0.35">800</text>
<line x1="227.81" y1="244.60" x2="227.81" y2="247.60" stroke="#333333" stroke-width="1.2"/>
<line x1="247.60" y1="244.60" x2="247.60" y2="249.60" stroke="#333333" stroke-width="1.2"/>
<text x="247.60" y="261.00" font-size="10.5" font-weight="normal" text-anchor="middle" fill="#333" letter-spacing="-0.35">1000</text>
<line x1="267.39" y1="244.60" x2="267.39" y2="247.60" stroke="#333333" stroke-width="1.2"/>
<line x1="287.18" y1="244.60" x2="287.18" y2="249.60" stroke="#333333" stroke-width="1.2"/>
<text x="287.18" y="261.00" font-size="10.5" font-weight="normal" text-anchor="middle" fill="#333" letter-spacing="-0.35">1200</text>
<line x1="306.97" y1="244.60" x2="306.97" y2="247.60" stroke="#333333" stroke-width="1.2"/>
<line x1="326.76" y1="244.60" x2="326.76" y2="249.60" stroke="#333333" stroke-width="1.2"/>
<text x="326.76" y="261.00" font-size="10.5" font-weight="normal" text-anchor="middle" fill="#333" letter-spacing="-0.35">1400</text>
<line x1="346.55" y1="244.60" x2="346.55" y2="247.60" stroke="#333333" stroke-width="1.2"/>
<line x1="366.34" y1="244.60" x2="366.34" y2="249.60" stroke="#333333" stroke-width="1.2"/>
<text x="366.34" y="261.00" font-size="10.5" font-weight="normal" text-anchor="middle" fill="#333" letter-spacing="-0.35">1600</text>
<rect x="49.8" y="2.1" width="326.2" height="242.5" fill="none" stroke="#333333" stroke-width="1.4"/>
<g clip-path="url(#cb)">
<path d="M431.80,245.40 L431.76,244.60 L431.72,243.81 L431.69,243.01 L431.66,242.21 L431.64,241.41 L431.61,240.62 L431.60,239.82 L431.59,239.02 L431.58,238.22 L431.58,237.42 L431.58,236.63 L431.59,235.83 L431.60,235.03 L431.62,234.23 L431.64,233.43 L431.66,232.64 L431.69,231.84 L431.73,231.04 L431.77,230.24 L431.81,229.45 L431.86,228.65 L431.91,227.85 L431.97,227.06 L432.03,226.26 L432.10,225.47 L432.17,224.67 L432.25,223.88 L432.33,223.08 L432.41,222.29 L432.50,221.50 L432.60,220.70 L432.70,219.91 L432.80,219.12 L432.91,218.33 L433.02,217.54 L433.14,216.75 L433.26,215.96 L433.39,215.17 L433.52,214.39 L433.66,213.60 L433.80,212.82 L433.94,212.03 L434.10,211.25 L434.25,210.46 L434.41,209.68 L434.57,208.90 L434.74,208.12 L434.91,207.34 L435.09,206.56 L435.27,205.79 L435.46,205.01 L435.65,204.24 L435.85,203.46 L436.04,202.69 L436.25,201.92 L436.46,201.15 L436.67,200.38 L436.89,199.61 L437.11,198.84 L437.34,198.08 L437.57,197.31 L437.80,196.55 L438.04,195.79 L438.28,195.03 L438.53,194.27 L438.78,193.51 L439.04,192.76 L439.30,192.00 L439.56,191.25 L439.83,190.50 L440.10,189.75 L440.38,189.00 L440.66,188.25 L440.95,187.51 L441.23,186.76 L441.53,186.02 L441.82,185.28 L442.12,184.54 L442.43,183.80 L442.74,183.07 L443.05,182.33 L443.37,181.60 L443.68,180.87 L444.01,180.14 L444.34,179.41 L444.67,178.68 L445.00,177.96 L445.34,177.24 L445.68,176.52 L446.03,175.80 L446.38,175.08 L446.73,174.36 L447.09,173.65 L447.45,172.94 L447.81,172.23 L448.18,171.52 L448.55,170.81 L448.92,170.11 L449.30,169.40 L449.68,168.70 L450.06,168.00 L450.45,167.30 L450.84,166.61 L451.23,165.91 L451.63,165.22 L452.03,164.53 L452.43,163.84 L452.84,163.15 L453.25,162.47 L453.66,161.79 L454.08,161.10 L454.50,160.43 L454.92,159.75 L455.34,159.07 L455.77,158.40 L456.20,157.73 L456.63,157.05 L457.07,156.39 L457.51,155.72 L457.95,155.05 L458.38,154.39 L458.84,153.73 L459.33,153.10 L459.82,152.47 L460.30,151.83 L460.78,151.19 L461.27,150.56 L461.77,149.94 L462.24,149.29 L462.64,148.60 L463.02,147.89 L463.44,147.21 L463.96,146.60 L464.51,146.01 L465.00,145.39 L465.42,144.71 L465.83,144.01 L466.28,143.35 L466.76,142.72 L467.34,142.15 L467.95,141.62 L468.49,141.03 L468.88,140.32 L469.21,139.56 L469.61,138.86 L470.16,138.27 L470.79,137.76 L471.41,137.24 L471.96,136.65 L472.44,136.02 L472.88,135.34 L473.30,134.65 L473.74,133.98 L474.25,133.36 L474.77,132.76 L475.30,132.16 L475.83,131.57 L476.40,131.00 L477.01,130.47 L477.61,129.94 L478.20,129.40 L478.79,128.86 L479.40,128.33 L479.95,127.76 L480.43,127.12 L480.89,126.45 L481.40,125.84 L481.99,125.30 L482.63,124.80 L483.28,124.32 L483.90,123.82 L484.47,123.26 L485.00,122.66 L485.50,122.03 L486.00,121.41 L486.53,120.81 L487.13,120.28 L487.79,119.82 L488.47,119.36 L489.09,118.86 L489.60,118.24 L490.04,117.56 L490.50,116.89 L491.02,116.27 L491.59,115.71 L492.17,115.16 L492.78,114.65 L493.40,114.14 L493.99,113.61 L494.54,113.02 L495.03,112.38 L495.51,111.72 L496.00,111.08 L496.57,110.52 L497.23,110.05 L497.94,109.66 L498.66,109.26 L499.35,108.83 L499.99,108.36 L500.58,107.82 L501.10,107.21 L501.58,106.54 L502.06,105.88 L502.60,105.28 L503.20,104.75 L503.85,104.29 L504.54,103.86 L505.22,103.43 L505.84,102.93 L506.41,102.37 L506.97,101.79 L507.55,101.24 L508.16,100.72 L508.78,100.22 L509.40,99.71 L509.99,99.18 L510.56,98.62 L511.12,98.03 L511.68,97.46 L512.28,96.94 L512.96,96.50 L513.69,96.14 L514.41,95.76 L515.04,95.27 L515.61,94.71 L516.20,94.16 L516.81,93.65 L517.44,93.15 L518.05,92.64 L518.65,92.11 L519.25,91.59 L519.91,91.13 L520.59,90.71 L521.26,90.27 L521.93,89.83 L522.59,89.38 L523.22,88.88 L523.82,88.35 L524.44,87.86 L525.13,87.44 L525.84,87.06 L526.52,86.63 L527.13,86.12 L527.72,85.57 L528.37,85.12 L529.10,84.76 L529.82,84.39 L530.48,83.95 L531.12,83.46 L531.77,83.01 L532.45,82.58 L533.11,82.14 L533.74,81.64 L534.35,81.12 L534.96,80.61 L535.59,80.12 L536.24,79.65 L536.89,79.19 L537.51,78.68 L538.10,78.13 L538.71,77.62 L539.41,77.22 L540.16,76.91 L540.92,76.60 L541.63,76.23 L542.29,75.78 L542.92,75.29 L543.55,74.79 L544.18,74.31 L544.83,73.84 L545.50,73.40 L546.17,72.97 L546.83,72.52 L547.47,72.05 L548.13,71.60 L548.81,71.18 L549.47,70.73 L550.09,70.22 L550.69,69.68 L551.31,69.18 L551.95,68.69 L552.60,68.24 L553.30,67.84 L554.01,67.47 L554.71,67.09 L555.38,66.65 L556.00,66.15 L556.59,65.59 L557.18,65.04 L557.84,64.58 L558.56,64.23 L559.32,63.92 L560.05,63.59 L560.74,63.19 L561.39,62.71 L561.97,62.14 L562.51,61.52 L563.08,60.94 L563.72,60.44 L564.39,60.01 L565.05,59.57 L565.73,59.14 L566.40,58.71 L567.06,58.27 L567.74,57.85 L568.48,57.52 L569.25,57.24 L570.01,56.95 L570.74,56.60 L571.38,56.13 L571.96,55.55 L572.53,54.96 L573.18,54.49 L573.91,54.15 L574.66,53.84 L575.36,53.47 L576.02,53.01 L576.65,52.51 L577.26,51.99 L577.86,51.45 L578.45,50.90 L579.05,50.36 L579.69,49.88 L580.38,49.47 L581.11,49.13 L581.89,48.86 L582.70,48.65 L583.52,48.44 L584.26,48.12 L584.91,47.64 L585.50,47.10 L586.11,46.56 L586.73,46.05 L587.35,45.54 L587.94,44.98 L588.52,44.42 L589.16,43.94 L589.89,43.59 L590.65,43.30 L591.36,42.93 L592.02,42.49 L592.69,42.04 L593.37,41.63 L594.08,41.25 L594.79,40.88 L595.49,40.49 L596.15,40.05 L596.79,39.57 L597.44,39.11 L598.11,38.67 L598.80,38.27 L599.52,37.91 L600.24,37.55 L600.90,37.10 L601.50,36.56 L602.09,36.01 L602.73,35.53 L603.41,35.11 L604.10,34.71 L604.78,34.29 L605.41,33.79 L605.98,33.21 L606.54,32.61 L607.16,32.11 L607.87,31.73 L608.60,31.38 L609.28,30.96 L609.92,30.48 L610.59,30.05 L611.28,29.65 L611.98,29.26 L612.67,28.86 L613.38,28.48 L614.08,28.09 L614.77,27.68 L615.44,27.25 L616.10,26.80 L616.72,26.30 L617.34,25.78 L617.97,25.29 L618.17,25.30 L618.23,26.88 L618.32,28.47 L618.45,30.05 L618.62,31.63 L618.82,33.22 L619.05,34.80 L619.32,36.38 L619.63,37.97 L619.96,39.55 L620.33,41.13 L620.73,42.72 L621.16,44.30 L621.62,45.88 L622.11,47.47 L622.63,49.05 L623.18,50.64 L623.76,52.22 L624.37,53.80 L625.00,55.39 L625.66,56.97 L626.34,58.55 L627.05,60.14 L627.78,61.72 L628.54,63.30 L629.32,64.89 L630.12,66.47 L630.95,68.05 L631.80,69.64 L632.67,71.22 L633.55,72.80 L634.46,74.39 L635.39,75.97 L636.34,77.55 L637.30,79.14 L638.28,80.72 L639.28,82.30 L640.29,83.89 L641.32,85.47 L642.37,87.05 L643.42,88.64 L644.49,90.22 L645.58,91.81 L646.68,93.39 L647.78,94.97 L648.90,96.56 L650.03,98.14 L651.17,99.72 L652.32,101.31 L653.47,102.89 L654.63,104.47 L655.80,106.06 L656.97,107.64 L658.14,109.22 L659.32,110.81 L660.49,112.39 L661.67,113.97 L662.84,115.56 L664.01,117.14 L665.18,118.72 L666.34,120.31 L667.49,121.89 L668.64,123.47 L669.78,125.06 L670.90,126.64 L672.02,128.22 L673.12,129.81 L674.21,131.39 L675.29,132.97 L676.36,134.56 L677.42,136.14 L678.46,137.73 L679.50,139.31 L680.53,140.89 L681.54,142.48 L682.55,144.06 L683.55,145.64 L684.55,147.23 L685.53,148.81 L686.51,150.39 L687.49,151.98 L688.46,153.56 L689.42,155.14 L690.38,156.73 L691.34,158.31 L692.29,159.89 L693.24,161.48 L694.18,163.06 L695.13,164.64 L696.07,166.23 L697.01,167.81 L697.95,169.39 L698.88,170.98 L699.81,172.56 L700.73,174.14 L701.65,175.73 L702.57,177.31 L703.48,178.89 L704.38,180.48 L705.27,182.06 L706.16,183.65 L707.04,185.23 L707.91,186.81 L708.77,188.40 L709.62,189.98 L710.47,191.56 L711.30,193.15 L712.12,194.73 L712.93,196.31 L713.72,197.90 L714.51,199.48 L715.28,201.06 L716.06,202.65 L716.83,204.23 L717.60,205.81 L718.38,207.40 L719.17,208.98 L719.97,210.56 L720.79,212.15 L721.62,213.73 L722.49,215.31 L723.37,216.90 L724.29,218.48 L725.25,220.06 L726.24,221.65 L727.27,223.23 L728.35,224.82 L729.47,226.40 L730.65,227.98 L731.89,229.57 L733.18,231.15 L734.53,232.73 L735.96,234.32 L737.45,235.90 L739.01,237.48 L740.65,239.07 L742.38,240.65 L744.18,242.23 L746.07,243.82 L748.06,245.40" fill="none" stroke="#000000" stroke-width="3.5" stroke-linejoin="round" stroke-linecap="butt"/>
<path d="M434.95,208.86 L435.37,207.51 L435.79,206.15 L436.22,204.80 L436.65,203.44 L437.08,202.09 L437.51,200.73 L437.95,199.38 L438.40,198.02 L438.84,196.66 L439.29,195.31 L439.74,193.95 L440.20,192.60 L440.65,191.24 L441.11,189.89 L441.57,188.53 L442.04,187.18 L442.50,185.82 L442.97,184.47 L443.44,183.11 L443.91,181.75 L444.38,180.40 L444.86,179.04 L445.33,177.69 L445.81,176.33 L446.29,174.98 L446.77,173.62 L447.25,172.27 L447.73,170.91 L448.22,169.56 L448.70,168.20 L449.19,166.84 L449.67,165.49 L450.16,164.13 L450.64,162.78 L451.13,161.42 L451.61,160.07 L452.10,158.71 L452.59,157.36 L453.07,156.00 L453.56,154.65 L454.04,153.29 L454.53,151.94 L455.01,150.58 L455.49,149.22 L455.98,147.87 L456.46,146.51 L456.94,145.16 L457.42,143.80 L457.90,142.45 L458.37,141.09 L458.85,139.74 L459.32,138.38 L459.79,137.03 L460.26,135.67 L460.73,134.31 L461.20,132.96 L461.66,131.60 L462.12,130.25 L462.58,128.89 L463.04,127.54 L463.50,126.18 L463.96,124.83 L464.42,123.47 L464.88,122.12 L465.34,120.76 L465.79,119.40 L466.25,118.05 L466.71,116.69 L467.17,115.34 L467.63,113.98 L468.09,112.63 L468.55,111.27 L469.01,109.92 L469.47,108.56 L469.94,107.21 L470.41,105.85 L470.88,104.49 L471.35,103.14 L471.82,101.78 L472.30,100.43 L472.78,99.07 L473.26,97.72 L473.75,96.36 L474.24,95.01 L474.73,93.65 L475.22,92.30 L475.72,90.94 L476.23,89.59 L476.74,88.23 L477.25,86.87 L477.77,85.52 L478.29,84.16 L478.82,82.81 L479.35,81.45 L479.89,80.10 L480.43,78.74 L480.98,77.39 L481.53,76.03 L482.10,74.68 L482.66,73.32 L483.24,71.96 L483.82,70.61 L484.41,69.25 L485.00,67.90 L485.60,66.54 L486.22,65.19 L486.84,63.83 L487.47,62.48 L488.11,61.12 L488.76,59.77 L489.42,58.41 L490.10,57.05 L490.78,55.70 L491.48,54.34 L492.20,52.99 L492.93,51.63 L493.67,50.28 L494.43,48.92 L495.21,47.57 L496.00,46.21 L496.81,44.86 L497.64,43.50 L498.48,42.14 L499.35,40.79 L500.24,39.43 L501.14,38.08 L502.07,36.72 L503.02,35.37 L503.99,34.01 L504.98,32.66 L506.00,31.30 L507.04,29.95 L508.10,28.59 L509.19,27.23 L510.31,25.88 L511.45,24.52 L512.62,23.17 L513.82,21.81 L515.04,20.46 L515.05,20.46 L515.08,22.08 L515.11,23.69 L515.16,25.31 L515.20,26.93 L515.26,28.55 L515.32,30.17 L515.38,31.79 L515.45,33.40 L515.53,35.02 L515.62,36.64 L515.70,38.26 L515.80,39.88 L515.90,41.50 L516.01,43.11 L516.12,44.73 L516.24,46.35 L516.36,47.97 L516.49,49.59 L516.63,51.21 L516.77,52.82 L516.92,54.44 L517.07,56.06 L517.23,57.68 L517.40,59.30 L517.57,60.92 L517.74,62.53 L517.92,64.15 L518.11,65.77 L518.31,67.39 L518.50,69.01 L518.71,70.62 L518.92,72.24 L519.13,73.86 L519.36,75.48 L519.58,77.10 L519.82,78.72 L520.05,80.33 L520.30,81.95 L520.55,83.57 L520.80,85.19 L521.06,86.81 L521.33,88.43 L521.60,90.04 L521.88,91.66 L522.16,93.28 L522.45,94.90 L522.74,96.52 L523.04,98.14 L523.35,99.75 L523.66,101.37 L523.97,102.99 L524.29,104.61 L524.62,106.23 L524.95,107.85 L525.29,109.46 L525.63,111.08 L525.98,112.70 L526.33,114.32 L526.69,115.94 L527.05,117.56 L527.42,119.17 L527.79,120.79 L528.17,122.41 L528.56,124.03 L528.95,125.65 L529.35,127.26 L529.75,128.88 L530.15,130.50 L530.56,132.12 L530.98,133.74 L531.40,135.36 L531.83,136.97 L532.26,138.59 L532.70,140.21 L533.14,141.83 L533.59,143.45 L534.04,145.07 L534.50,146.68 L534.96,148.30 L535.43,149.92 L535.90,151.54 L536.38,153.16 L536.87,154.78 L537.36,156.39 L537.85,158.01 L538.35,159.63 L538.85,161.25 L539.36,162.87 L539.87,164.49 L540.39,166.10 L540.92,167.72 L541.45,169.34 L541.98,170.96 L542.52,172.58 L543.06,174.20 L543.61,175.81 L544.16,177.43 L544.72,179.05 L545.29,180.67 L545.85,182.29 L546.43,183.91 L547.01,185.52 L547.59,187.14 L548.18,188.76 L548.77,190.38 L549.37,192.00 L549.97,193.61 L550.58,195.23 L551.19,196.85 L551.80,198.47 L552.43,200.09 L553.05,201.71 L553.68,203.32 L554.32,204.94 L554.96,206.56 L555.61,208.18 L556.26,209.80 L556.91,211.42 L557.57,213.03 L558.23,214.65 L558.90,216.27 L559.58,217.89 L560.25,219.51 L560.94,221.13 L561.62,222.74 L562.32,224.36 L563.01,225.98 L563.71,227.60 L564.42,229.22 L565.13,230.84 L565.84,232.45 L566.56,234.07 L567.29,235.69 L568.02,237.31 L568.75,238.93 L569.49,240.55 L570.23,242.16 L570.97,243.78 L571.73,245.40" fill="none" stroke="#ff0000" stroke-width="3.1" stroke-linejoin="round" stroke-linecap="butt"/>
<path d="M431.80,245.40 L432.32,243.81 L432.83,242.22 L433.34,240.64 L433.84,239.05 L434.34,237.46 L434.82,235.87 L435.31,234.28 L435.78,232.69 L436.26,231.11 L436.72,229.52 L437.18,227.93 L437.64,226.34 L438.10,224.75 L438.54,223.17 L438.99,221.58 L439.43,219.99 L439.87,218.40 L440.31,216.81 L440.75,215.22 L441.18,213.64 L441.61,212.05 L442.04,210.46 L442.47,208.87 L442.90,207.28 L443.33,205.69 L443.76,204.11 L444.18,202.52 L444.61,200.93 L445.04,199.34 L445.47,197.75 L445.90,196.17 L446.33,194.58 L446.77,192.99 L447.20,191.40 L447.64,189.81 L448.08,188.22 L448.53,186.64 L448.98,185.05 L449.43,183.46 L449.88,181.87 L450.34,180.28 L450.81,178.70 L451.27,177.11 L451.75,175.52 L452.23,173.93 L452.71,172.34 L453.20,170.75 L453.70,169.17 L454.20,167.58 L454.71,165.99 L455.23,164.40 L455.75,162.81 L456.29,161.23 L456.83,159.64 L457.37,158.05 L457.93,156.46 L458.50,154.87 L459.07,153.28 L459.66,151.70 L460.25,150.11 L460.86,148.52 L461.47,146.93 L462.10,145.34 L462.73,143.75 L463.38,142.17 L464.04,140.58 L464.71,138.99 L465.39,137.40 L466.09,135.81 L466.80,134.23 L467.52,132.64 L468.25,131.05 L469.00,129.46 L469.76,127.87 L470.54,126.28 L471.33,124.70 L472.13,123.11 L472.95,121.52 L473.79,119.93 L474.64,118.34 L475.51,116.76 L476.39,115.17 L477.29,113.58 L478.21,111.99 L479.14,110.40 L480.10,108.81 L481.07,107.23 L482.05,105.64 L483.06,104.05 L484.08,102.46 L485.13,100.87 L486.19,99.29 L487.27,97.70 L488.38,96.11 L489.50,94.52 L490.64,92.93 L491.81,91.34 L492.99,89.76 L494.20,88.17 L495.43,86.58 L496.68,84.99 L497.95,83.40 L499.25,81.82 L500.56,80.23 L501.90,78.64 L503.27,77.05 L504.66,75.46 L506.07,73.87 L507.51,72.29 L508.97,70.70 L510.46,69.11 L511.97,67.52 L513.51,65.93 L515.07,64.34 L516.66,62.76 L518.28,61.17 L519.92,59.58 L521.59,57.99 L523.29,56.40 L525.01,54.82 L526.77,53.23 L528.55,51.64 L530.36,50.05 L532.20,48.46 L534.06,46.87 L535.96,45.29 L537.89,43.70 L539.85,42.11 L541.84,40.52 L543.85,38.93 L545.90,37.35 L547.99,35.76 L550.10,34.17 L552.24,32.58 L554.42,30.99 L556.63,29.40 L558.87,27.82 L561.15,26.23 L563.46,24.64 L563.46,24.64 L563.56,26.23 L563.67,27.82 L563.78,29.40 L563.90,30.99 L564.03,32.58 L564.16,34.17 L564.30,35.76 L564.44,37.35 L564.59,38.93 L564.74,40.52 L564.90,42.11 L565.06,43.70 L565.23,45.29 L565.41,46.87 L565.59,48.46 L565.78,50.05 L565.97,51.64 L566.17,53.23 L566.37,54.82 L566.58,56.40 L566.79,57.99 L567.01,59.58 L567.24,61.17 L567.47,62.76 L567.70,64.34 L567.95,65.93 L568.19,67.52 L568.44,69.11 L568.70,70.70 L568.96,72.29 L569.23,73.87 L569.51,75.46 L569.79,77.05 L570.07,78.64 L570.36,80.23 L570.66,81.82 L570.96,83.40 L571.26,84.99 L571.57,86.58 L571.89,88.17 L572.21,89.76 L572.54,91.34 L572.87,92.93 L573.21,94.52 L573.55,96.11 L573.90,97.70 L574.25,99.29 L574.61,100.87 L574.97,102.46 L575.34,104.05 L575.72,105.64 L576.10,107.23 L576.48,108.81 L576.87,110.40 L577.26,111.99 L577.66,113.58 L578.07,115.17 L578.48,116.76 L578.89,118.34 L579.31,119.93 L579.74,121.52 L580.17,123.11 L580.61,124.70 L581.05,126.28 L581.49,127.87 L581.94,129.46 L582.40,131.05 L582.86,132.64 L583.33,134.23 L583.80,135.81 L584.27,137.40 L584.75,138.99 L585.24,140.58 L585.73,142.17 L586.22,143.75 L586.73,145.34 L587.23,146.93 L587.74,148.52 L588.26,150.11 L588.78,151.70 L589.30,153.28 L589.83,154.87 L590.37,156.46 L590.91,158.05 L591.45,159.64 L592.00,161.23 L592.56,162.81 L593.11,164.40 L593.68,165.99 L594.25,167.58 L594.82,169.17 L595.40,170.75 L595.98,172.34 L596.57,173.93 L597.16,175.52 L597.76,177.11 L598.36,178.70 L598.97,180.28 L599.58,181.87 L600.20,183.46 L600.82,185.05 L601.45,186.64 L602.08,188.22 L602.71,189.81 L603.35,191.40 L604.00,192.99 L604.64,194.58 L605.30,196.17 L605.96,197.75 L606.62,199.34 L607.29,200.93 L607.96,202.52 L608.64,204.11 L609.32,205.69 L610.00,207.28 L610.69,208.87 L611.39,210.46 L612.09,212.05 L612.79,213.64 L613.50,215.22 L614.22,216.81 L614.93,218.40 L615.66,219.99 L616.38,221.58 L617.11,223.17 L617.85,224.75 L618.59,226.34 L619.33,227.93 L620.08,229.52 L620.84,231.11 L621.59,232.69 L622.36,234.28 L623.12,235.87 L623.89,237.46 L624.67,239.05 L625.45,240.64 L626.23,242.22 L627.02,243.81 L627.81,245.40" fill="none" stroke="#00ff00" stroke-width="3.1" stroke-linejoin="round" stroke-linecap="butt"/>
</g>
<line x1="426.20" y1="245.40" x2="431.70" y2="245.40" stroke="#333333" stroke-width="1.2"/>
<text x="421.50" y="248.22" font-size="9.5" font-weight="bold" text-anchor="end" fill="#222">0.0</text>
<line x1="428.70" y1="223.39" x2="431.70" y2="223.39" stroke="#333333" stroke-width="1.2"/>
<line x1="426.20" y1="201.38" x2="431.70" y2="201.38" stroke="#333333" stroke-width="1.2"/>
<text x="421.50" y="204.20" font-size="9.5" font-weight="bold" text-anchor="end" fill="#222">0.2</text>
<line x1="428.70" y1="179.37" x2="431.70" y2="179.37" stroke="#333333" stroke-width="1.2"/>
<line x1="426.20" y1="157.36" x2="431.70" y2="157.36" stroke="#333333" stroke-width="1.2"/>
<text x="421.50" y="160.18" font-size="9.5" font-weight="bold" text-anchor="end" fill="#222">0.4</text>
<line x1="428.70" y1="135.35" x2="431.70" y2="135.35" stroke="#333333" stroke-width="1.2"/>
<line x1="426.20" y1="113.34" x2="431.70" y2="113.34" stroke="#333333" stroke-width="1.2"/>
<text x="421.50" y="116.16" font-size="9.5" font-weight="bold" text-anchor="end" fill="#222">0.6</text>
<line x1="428.70" y1="91.33" x2="431.70" y2="91.33" stroke="#333333" stroke-width="1.2"/>
<line x1="426.20" y1="69.32" x2="431.70" y2="69.32" stroke="#333333" stroke-width="1.2"/>
<text x="421.50" y="72.14" font-size="9.5" font-weight="bold" text-anchor="end" fill="#222">0.8</text>
<line x1="428.70" y1="47.31" x2="431.70" y2="47.31" stroke="#333333" stroke-width="1.2"/>
<line x1="426.20" y1="25.30" x2="431.70" y2="25.30" stroke="#333333" stroke-width="1.2"/>
<text x="421.50" y="28.12" font-size="9.5" font-weight="bold" text-anchor="end" fill="#222">1.0</text>
<line x1="431.80" y1="245.40" x2="431.80" y2="250.40" stroke="#333333" stroke-width="1.2"/>
<text x="431.80" y="262.00" font-size="9.5" font-weight="bold" text-anchor="middle" fill="#222" letter-spacing="0">0</text>
<line x1="451.48" y1="245.40" x2="451.48" y2="248.40" stroke="#333333" stroke-width="1.2"/>
<line x1="471.16" y1="245.40" x2="471.16" y2="250.40" stroke="#333333" stroke-width="1.2"/>
<text x="471.16" y="262.00" font-size="9.5" font-weight="bold" text-anchor="middle" fill="#222" letter-spacing="0">200</text>
<line x1="490.84" y1="245.40" x2="490.84" y2="248.40" stroke="#333333" stroke-width="1.2"/>
<line x1="510.52" y1="245.40" x2="510.52" y2="250.40" stroke="#333333" stroke-width="1.2"/>
<text x="510.52" y="262.00" font-size="9.5" font-weight="bold" text-anchor="middle" fill="#222" letter-spacing="0">400</text>
<line x1="530.20" y1="245.40" x2="530.20" y2="248.40" stroke="#333333" stroke-width="1.2"/>
<line x1="549.88" y1="245.40" x2="549.88" y2="250.40" stroke="#333333" stroke-width="1.2"/>
<text x="549.88" y="262.00" font-size="9.5" font-weight="bold" text-anchor="middle" fill="#222" letter-spacing="0">600</text>
<line x1="569.56" y1="245.40" x2="569.56" y2="248.40" stroke="#333333" stroke-width="1.2"/>
<line x1="589.24" y1="245.40" x2="589.24" y2="250.40" stroke="#333333" stroke-width="1.2"/>
<text x="589.24" y="262.00" font-size="9.5" font-weight="bold" text-anchor="middle" fill="#222" letter-spacing="0">800</text>
<line x1="608.92" y1="245.40" x2="608.92" y2="248.40" stroke="#333333" stroke-width="1.2"/>
<line x1="628.60" y1="245.40" x2="628.60" y2="250.40" stroke="#333333" stroke-width="1.2"/>
<text x="628.60" y="262.00" font-size="9.5" font-weight="bold" text-anchor="middle" fill="#222" letter-spacing="0">1000</text>
<line x1="648.28" y1="245.40" x2="648.28" y2="248.40" stroke="#333333" stroke-width="1.2"/>
<line x1="667.96" y1="245.40" x2="667.96" y2="250.40" stroke="#333333" stroke-width="1.2"/>
<text x="667.96" y="262.00" font-size="9.5" font-weight="bold" text-anchor="middle" fill="#222" letter-spacing="0">1200</text>
<line x1="687.64" y1="245.40" x2="687.64" y2="248.40" stroke="#333333" stroke-width="1.2"/>
<line x1="707.32" y1="245.40" x2="707.32" y2="250.40" stroke="#333333" stroke-width="1.2"/>
<text x="707.32" y="262.00" font-size="9.5" font-weight="bold" text-anchor="middle" fill="#222" letter-spacing="0">1400</text>
<line x1="727.00" y1="245.40" x2="727.00" y2="248.40" stroke="#333333" stroke-width="1.2"/>
<line x1="746.68" y1="245.40" x2="746.68" y2="250.40" stroke="#333333" stroke-width="1.2"/>
<text x="746.68" y="262.00" font-size="9.5" font-weight="bold" text-anchor="middle" fill="#222" letter-spacing="0">1600</text>
<rect x="431.7" y="3.3" width="324.59999999999997" height="242.1" fill="none" stroke="#333333" stroke-width="1.4"/>
<defs><clipPath id="ca"><rect x="49.8" y="2.1" width="326.2" height="242.5"/></clipPath><clipPath id="cb"><rect x="431.7" y="3.3" width="324.59999999999997" height="242.1"/></clipPath></defs>
<rect x="255.6" y="2.1" width="120.4" height="67.0" fill="#fff" stroke="#6f7f6f" stroke-width="1"/>
<line x1="256.1" y1="6.00" x2="272.7" y2="6.00" stroke="#008000" stroke-width="2.6"/>
<text x="274.1" y="8.70" font-size="7.5" fill="#111">pure Ppy<tspan font-size="4.6" dy="2.8">1%</tspan><tspan dy="-2.8">-DBSA</tspan><tspan font-size="4.6" dy="2.8">2%</tspan><tspan dy="-2.8">/GS</tspan></text>
<line x1="256.1" y1="17.20" x2="272.7" y2="17.20" stroke="#ff0000" stroke-width="2.6"/>
<text x="274.1" y="19.90" font-size="7.5" fill="#111">Ppy<tspan font-size="4.6" dy="2.8">1%</tspan><tspan dy="-2.8">-DBSA</tspan><tspan font-size="4.6" dy="2.8">2%</tspan><tspan dy="-2.8">/NiO</tspan><tspan font-size="4.6" dy="2.8">97%</tspan><tspan dy="-2.8">-GS@2</tspan></text>
<line x1="256.1" y1="29.50" x2="272.7" y2="29.50" stroke="#000000" stroke-width="2.6"/>
<text x="274.1" y="32.20" font-size="7.5" fill="#111">Ppy<tspan font-size="4.6" dy="2.8">1%</tspan><tspan dy="-2.8">-DBSA</tspan><tspan font-size="4.6" dy="2.8">2%</tspan><tspan dy="-2.8">/NiO</tspan><tspan font-size="4.6" dy="2.8">97%</tspan><tspan dy="-2.8">-GS@4</tspan></text>
<line x1="256.1" y1="41.10" x2="272.7" y2="41.10" stroke="#00ff00" stroke-width="2.6"/>
<text x="274.1" y="43.80" font-size="7.5" fill="#111">Ppy<tspan font-size="4.6" dy="2.8">1%</tspan><tspan dy="-2.8">-DBSA</tspan><tspan font-size="4.6" dy="2.8">2%</tspan><tspan dy="-2.8">/NiO</tspan><tspan font-size="4.6" dy="2.8">97%</tspan><tspan dy="-2.8">-GS@6</tspan></text>
<line x1="256.1" y1="52.50" x2="272.7" y2="52.50" stroke="#0000ff" stroke-width="2.6"/>
<text x="274.1" y="55.20" font-size="7.5" fill="#111">Ppy<tspan font-size="4.6" dy="2.8">1%</tspan><tspan dy="-2.8">-DBSA</tspan><tspan font-size="4.6" dy="2.8">2%</tspan><tspan dy="-2.8">/NiO</tspan><tspan font-size="4.6" dy="2.8">97%</tspan><tspan dy="-2.8">-GS@8</tspan></text>
<line x1="256.1" y1="63.90" x2="272.7" y2="63.90" stroke="#800000" stroke-width="2.6"/>
<text x="274.1" y="66.60" font-size="7.5" fill="#111">Ppy<tspan font-size="4.6" dy="2.8">1%</tspan><tspan dy="-2.8">-DBSA</tspan><tspan font-size="4.6" dy="2.8">2%</tspan><tspan dy="-2.8">/NiO</tspan><tspan font-size="4.6" dy="2.8">97%</tspan><tspan dy="-2.8">-GS@10</tspan></text>
<line x1="49.8" y1="2.1" x2="376.0" y2="2.1" stroke="#333333" stroke-width="1.4"/>
<line x1="376.0" y1="2.1" x2="376.0" y2="244.6" stroke="#333333" stroke-width="1.4"/>
<rect x="679.2" y="3.9" width="77.29999999999995" height="46.300000000000004" fill="#fff" stroke="#444" stroke-width="1.1"/>
<line x1="680.5" y1="12.50" x2="710.3" y2="12.50" stroke="#000" stroke-width="3.0" stroke-linecap="round"/>
<text x="712.9" y="16.70" font-size="12" fill="#1a1a1a" textLength="42.6" lengthAdjust="spacingAndGlyphs">at 1 A/g</text>
<line x1="680.5" y1="27.90" x2="710.3" y2="27.90" stroke="#00ff00" stroke-width="3.0" stroke-linecap="round"/>
<text x="712.9" y="32.10" font-size="12" fill="#1a1a1a" textLength="42.6" lengthAdjust="spacingAndGlyphs">at 2 A/g</text>
<line x1="680.5" y1="43.30" x2="710.3" y2="43.30" stroke="#ff0000" stroke-width="3.0" stroke-linecap="round"/>
<text x="712.9" y="47.50" font-size="12" fill="#1a1a1a" textLength="42.6" lengthAdjust="spacingAndGlyphs">at 3 A/g</text>
<line x1="428.4" y1="3.3" x2="756.3" y2="3.3" stroke="#333333" stroke-width="1.4"/>
<line x1="756.3" y1="3.3" x2="756.3" y2="245.4" stroke="#333333" stroke-width="1.4"/>
<text x="53.5" y="17" font-size="14" font-weight="bold" fill="#111">(a)</text>
<text x="435.3" y="17.6" font-size="13" font-weight="bold" fill="#111">(b)</text>
<text x="213.6" y="282.4" font-size="14.7" font-weight="bold" text-anchor="middle" fill="#111">Time(sec)</text>
<text x="594.4" y="282.2" font-size="13.3" font-weight="bold" text-anchor="middle" fill="#111">Time (sec)</text>
<text transform="translate(13.4,114.3) rotate(-90)" font-size="15" font-weight="bold" text-anchor="middle" fill="#111">Potential(V)</text>
<text transform="translate(392.0,115.5) rotate(-90)" font-size="13.5" font-weight="bold" text-anchor="middle" fill="#111">Potential (V)</text>
</svg></body></html>
